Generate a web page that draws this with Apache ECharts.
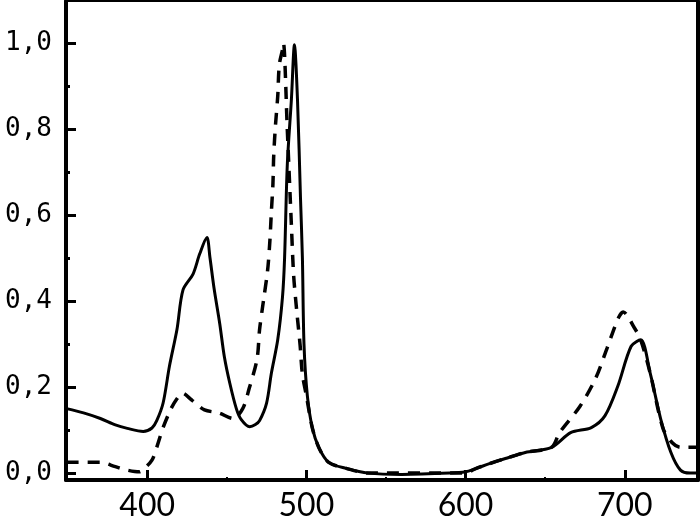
<!DOCTYPE html>
<html>
<head>
<meta charset="utf-8">
<script src="https://cdn.jsdelivr.net/npm/echarts@6/dist/echarts.min.js"></script>
<style>
  html, body { margin: 0; padding: 0; background: #fff; }
  #chart { width: 700px; height: 522px; }
</style>
</head>
<body>
<div id="chart"></div>
<script>
// solid curve
const solidX = [349.4, 360, 370.6, 380, 387.5, 397.5, 403, 406, 410, 414, 418.7, 422.5, 428.8, 433, 437.5, 439.4, 442, 445.6, 448.5, 451.9, 456, 459, 464.4, 468, 470.6, 475, 478, 482, 485, 486.3, 488, 490.6, 492.5, 494.4, 496.3, 497.5, 498.5, 500.6, 503.8, 508, 514, 525, 539, 560, 590, 600, 606, 615, 625, 637.5, 654, 666, 679, 687.5, 695.6, 704, 710, 716, 722.5, 729, 735, 741, 746]
const solidY = [0.150, 0.140, 0.127, 0.112, 0.104, 0.097, 0.105, 0.122, 0.163, 0.249, 0.334, 0.426, 0.463, 0.510, 0.548, 0.502, 0.430, 0.347, 0.270, 0.209, 0.150, 0.125, 0.108, 0.113, 0.122, 0.163, 0.232, 0.310, 0.410, 0.500, 0.716, 0.870, 0.996, 0.870, 0.640, 0.500, 0.300, 0.180, 0.104, 0.058, 0.025, 0.011, 0.000, -0.003, 0.000, 0.003, 0.010, 0.022, 0.034, 0.048, 0.060, 0.094, 0.106, 0.133, 0.202, 0.295, 0.310, 0.232, 0.127, 0.048, 0.007, 0.000, 0.000]

// dashed curve
const dashX = [349.4, 370.6, 380, 387.5, 395, 398, 403, 406, 410, 415, 418.7, 422, 428, 436, 445, 454, 460, 464, 469, 470.6, 473, 475.6, 477, 478, 479, 479.5, 480.6, 482, 483, 485, 485.6, 488, 490.6, 492, 494, 496, 497.5, 500, 503.8, 508, 514, 525, 539, 600, 606, 615, 625, 637.5, 654, 659, 672, 682, 689, 696, 699, 706, 710, 716, 724, 730, 735, 746]
const dashY = [0.025, 0.025, 0.015, 0.007, 0.003, 0.010, 0.030, 0.060, 0.106, 0.150, 0.173, 0.186, 0.170, 0.147, 0.140, 0.127, 0.150, 0.196, 0.265, 0.334, 0.400, 0.470, 0.536, 0.607, 0.674, 0.740, 0.810, 0.876, 0.950, 0.985, 1.000, 0.800, 0.575, 0.460, 0.375, 0.300, 0.230, 0.180, 0.104, 0.058, 0.025, 0.011, 0.000, 0.000, 0.010, 0.022, 0.034, 0.048, 0.060, 0.094, 0.156, 0.223, 0.292, 0.361, 0.375, 0.338, 0.310, 0.232, 0.104, 0.070, 0.060, 0.060]

const xTicks = [400, 500, 600, 700]
const xMinorTicks = [450, 550, 650]
const yTicks = [0, 0.2, 0.4, 0.6, 0.8, 1.0]
const yMinorTicks = [0.1, 0.3, 0.5, 0.7, 0.9]

const xMin = 349
const xMax = 746
const yMin = -0.016
const yMax = 1.098

const chart = echarts.init(document.getElementById('chart'))

const pairs = (xs, ys) => xs.map((x, i) => [x, ys[i]])

const option = {
  animation: false,
  grid: { left: 66, right: 2, top: 1, bottom: 37 },
  xAxis: [
    {
      type: 'value',
      min: xMin,
      max: xMax,
      splitLine: { show: false },
      axisLine: { onZero: false, lineStyle: { color: '#000', width: 4 } },
      axisTick: { inside: true, length: 10, lineStyle: { color: '#000', width: 3 }, customValues: xTicks },
      axisLabel: {
        customValues: xTicks,
        color: '#000',
        fontFamily: 'Lato',
        fontSize: 32,
        margin: 10
      }
    },
    {
      type: 'value',
      min: xMin,
      max: xMax,
      position: 'bottom',
      splitLine: { show: false },
      axisLine: { show: false, onZero: false },
      axisTick: { inside: true, length: 3, lineStyle: { color: '#000', width: 2 }, customValues: xMinorTicks },
      axisLabel: { show: false }
    },
    {
      type: 'value',
      min: xMin,
      max: xMax,
      position: 'top',
      splitLine: { show: false },
      axisLine: { onZero: false, lineStyle: { color: '#000', width: 2 } },
      axisTick: { show: false },
      axisLabel: { show: false }
    }
  ],
  yAxis: [
    {
      type: 'value',
      min: yMin,
      max: yMax,
      splitLine: { show: false },
      axisLine: { onZero: false, lineStyle: { color: '#000', width: 4 } },
      axisTick: { inside: true, length: 10, lineStyle: { color: '#000', width: 3 }, customValues: yTicks },
      axisLabel: {
        customValues: yTicks,
        formatter: v => v.toFixed(1).replace('.', ','),
        color: '#000',
        fontFamily: 'DejaVu Sans Mono',
        fontSize: 26,
        margin: 14
      }
    },
    {
      type: 'value',
      min: yMin,
      max: yMax,
      position: 'left',
      splitLine: { show: false },
      axisLine: { show: false, onZero: false },
      axisTick: { inside: true, length: 4, lineStyle: { color: '#000', width: 3 }, customValues: yMinorTicks },
      axisLabel: { show: false }
    },
    {
      type: 'value',
      min: yMin,
      max: yMax,
      position: 'right',
      splitLine: { show: false },
      axisLine: { onZero: false, lineStyle: { color: '#000', width: 4 } },
      axisTick: { show: false },
      axisLabel: { show: false }
    }
  ],
  series: [
    {
      name: 'dashed',
      type: 'line',
      data: pairs(dashX, dashY),
      smooth: 0.3,
      showSymbol: false,
      lineStyle: { color: '#000', width: 3.5, type: [12, 9] }
    },
    {
      name: 'solid',
      type: 'line',
      data: pairs(solidX, solidY),
      smooth: 0.3,
      showSymbol: false,
      lineStyle: { color: '#000', width: 3 }
    }
  ]
}

chart.setOption(option)
</script>
</body>
</html>
